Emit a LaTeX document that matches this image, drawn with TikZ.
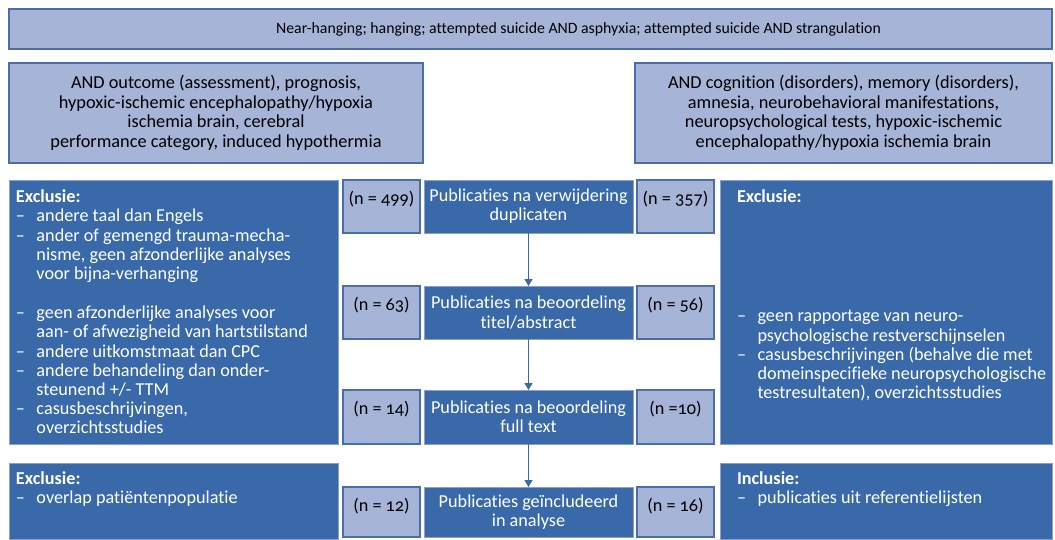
\documentclass[tikz,border=0pt]{standalone}
\usepackage{fontspec}
\setmainfont{Carlito}[Numbers=OldStyle, Ligatures=NoCommon]
\usetikzlibrary{arrows.meta}
\definecolor{darkb}{RGB}{57,105,168}
\definecolor{lightb}{RGB}{166,180,216}
\definecolor{edgeb}{RGB}{74,110,170}
\definecolor{rimb}{RGB}{140,160,200}
\newcommand\itm{\makebox[20.5pt][l]{–}}
\newcommand\ind{\hspace*{20.5pt}}
\begin{document}
\begin{tikzpicture}[x=1pt,y=-1pt,
  every node/.style={inner sep=0pt, outer sep=0pt},
  box/.style={anchor=north west, rectangle},
  lightbox/.style={box, draw=edgeb, line width=1.4pt, fill=lightb},
  darkbox/.style={box, draw=rimb, line width=0.7pt, fill=darkb},
  txt/.style={font=\fontsize{18.2}{19.2}\selectfont},
  dtxt/.style={txt, text=white},
  ntxt/.style={txt, text=black, text height=24pt, text depth=26pt},
  flow/.style={draw=darkb, line width=1.4pt, -{Triangle[length=7pt,width=8pt]}}
]
\useasboundingbox (0,0) rectangle (1055,539);
% search boxes
\node[lightbox, minimum width=1043pt, minimum height=40pt] (search) at (9,9) {};
\node[font=\fontsize{15.8}{19}\selectfont, xshift=48pt] (searchtxt) at (search.center)
  {Near-hanging; hanging; attempted suicide AND asphyxia; attempted suicide AND strangulation};
\node[lightbox, minimum width=414pt, minimum height=100pt, align=center, font=\fontsize{18.3}{19.5}\selectfont] (qleft) at (9,63)
  {AND outcome (assessment), prognosis,\\hypoxic-ischemic encephalopathy/hypoxia\\ischemia brain, cerebral\\performance category, induced hypothermia};
\node[lightbox, minimum width=417pt, minimum height=100pt, align=center, font=\fontsize{18.3}{19.5}\selectfont] (qright) at (635,63)
  {AND cognition (disorders), memory (disorders),\\amnesia, neurobehavioral manifestations,\\neuropsychological tests, hypoxic-ischemic\\encephalopathy/hypoxia ischemia brain};
% exclusion boxes
\node[darkbox, minimum width=329pt, minimum height=264pt] (exl) at (9,180) {};
\node[darkbox, minimum width=332pt, minimum height=264pt] (exr) at (720,180) {};
\node[darkbox, minimum width=329pt, minimum height=76pt] (exl2) at (9,463) {};
\node[darkbox, minimum width=332pt, minimum height=76pt] (inr) at (720,463) {};
\node[dtxt, anchor=north west, align=left] (exltxt) at (16,190)
  {\textbf{Exclusie:}\\
   \itm andere taal dan Engels\\
   \itm ander of gemengd trauma-mecha-\\
   \ind nisme, geen afzonderlijke analyses\\
   \ind voor bijna-verhanging\\[20pt]
   \itm geen afzonderlijke analyses voor\\
   \ind aan- of afwezigheid van hartstilstand\\
   \itm andere uitkomstmaat dan CPC\\
   \itm andere behandeling dan onder-\\
   \ind steunend +/- TTM\\
   \itm casusbeschrijvingen,\\
   \ind overzichtsstudies};
\node[dtxt, anchor=north west, align=left] (exrtxt) at (737,190)
  {\textbf{Exclusie:}\\[100pt]
   \itm geen rapportage van neuro-\\
   \ind psychologische restverschijnselen\\
   \itm casusbeschrijvingen (behalve die met\\
   \ind domeinspecifieke neuropsychologische\\
   \ind testresultaten), overzichtsstudies};
\node[dtxt, anchor=north west, align=left] (exl2txt) at (16,472)
  {\textbf{Exclusie:}\\
   \itm overlap patiëntenpopulatie};
\node[dtxt, anchor=north west, align=left] (inrtxt) at (737,472)
  {\textbf{Inclusie:}\\
   \itm publicaties uit referentielijsten};
% centre column
\node[box, fill=darkb, draw=rimb, line width=0.7pt, minimum width=209pt, minimum height=53pt, dtxt, align=center] (c1) at (424,180)
  {Publicaties na verwijdering\\duplicaten};
\node[box, fill=darkb, draw=rimb, line width=0.7pt, minimum width=209pt, minimum height=53pt, dtxt, align=center] (c2) at (424,286)
  {Publicaties na beoordeling\\titel/abstract};
\node[box, fill=darkb, draw=rimb, line width=0.7pt, minimum width=209pt, minimum height=54pt, dtxt, align=center] (c3) at (424,390)
  {Publicaties na beoordeling\\full text};
\node[box, fill=darkb, draw=rimb, line width=0.7pt, minimum width=209pt, minimum height=50pt, dtxt, align=center] (c4) at (424,487)
  {Publicaties geïncludeerd\\in analyse};
% n boxes
\node[lightbox, minimum width=77pt, ntxt, text depth=29pt] (nl1) at (343,180) {(n = 499)};
\node[lightbox, minimum width=77pt, ntxt, text depth=29pt] (nr1) at (637,180) {(n = 357)};
\node[lightbox, minimum width=77pt, ntxt, text depth=29pt] (nl2) at (343,286) {(n = 63)};
\node[lightbox, minimum width=77pt, ntxt, text depth=29pt] (nr2) at (637,286) {(n = 56)};
\node[lightbox, minimum width=77pt, ntxt, text depth=30pt] (nl3) at (343,390) {(n = 14)};
\node[lightbox, minimum width=77pt, ntxt, text depth=30pt] (nr3) at (637,390) {(n =10)};
\node[lightbox, minimum width=77pt, ntxt, text depth=26pt] (nl4) at (343,487) {(n = 12)};
\node[lightbox, minimum width=77pt, ntxt, text depth=26pt] (nr4) at (637,487) {(n = 16)};
% arrows
\draw[flow] (c1) -- (c2);
\draw[flow] (c2) -- (c3);
\draw[flow] (c3) -- (c4);
\end{tikzpicture}
\end{document}
